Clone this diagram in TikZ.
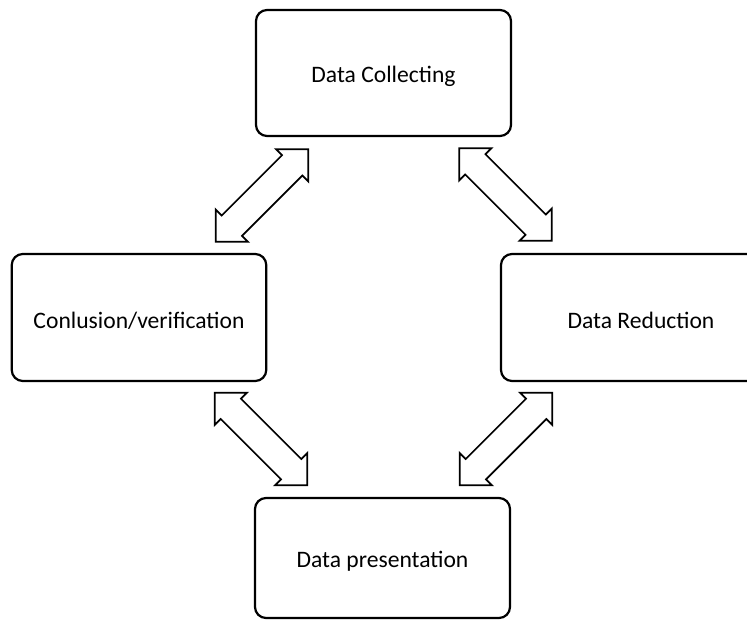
\documentclass[tikz,border=0pt]{standalone}
\usepackage{fontspec}
\setmainfont{Carlito}
\usetikzlibrary{shapes.arrows}
% label text, drawn a little low while keeping its box size
\newcommand{\stagetext}[1]{\raisebox{-3pt}[\height][\depth]{#1}}
\begin{document}
\begin{tikzpicture}[x=1pt,y=-1pt,
  stagebox/.style={draw, line width=2.2pt, rounded corners=11pt,
    inner sep=0pt, font=\fontsize{23.6}{28}\selectfont},
  dblarr/.style={draw, line width=1.7pt, double arrow, double arrow tip angle=90,
    minimum height=131pt, minimum width=44pt, double arrow head extend=8.5pt,
    inner sep=13.5pt, inner xsep=0pt}]
  \useasboundingbox (0,0) rectangle (747,621);
  \clip (0,0) rectangle (747,621);

  % four stages of the cycle
  \node[stagebox, minimum width=255pt, minimum height=126pt] (collect) at (383.5,73) {\stagetext{Data Collecting}};
  \node[stagebox, minimum width=254.5pt, minimum height=127pt] (concl) at (139,317.5) {\stagetext{Conlusion/verification}};
  \node[stagebox, minimum width=280pt, minimum height=127pt] (reduce) at (641,317.5) {\stagetext{Data Reduction}};
  \node[stagebox, minimum width=255pt, minimum height=120pt] (present) at (382.5,558) {\stagetext{Data presentation}};

  % two-way block arrows between neighbouring stages
  \node[dblarr, rotate=45]  (a1) at (262,195.5) {};
  \node[dblarr, rotate=-45] (a2) at (505.5,194.5) {};
  \node[dblarr, rotate=-45] (a3) at (261,439) {};
  \node[dblarr, rotate=45]  (a4) at (506,439) {};
\end{tikzpicture}
\end{document}
